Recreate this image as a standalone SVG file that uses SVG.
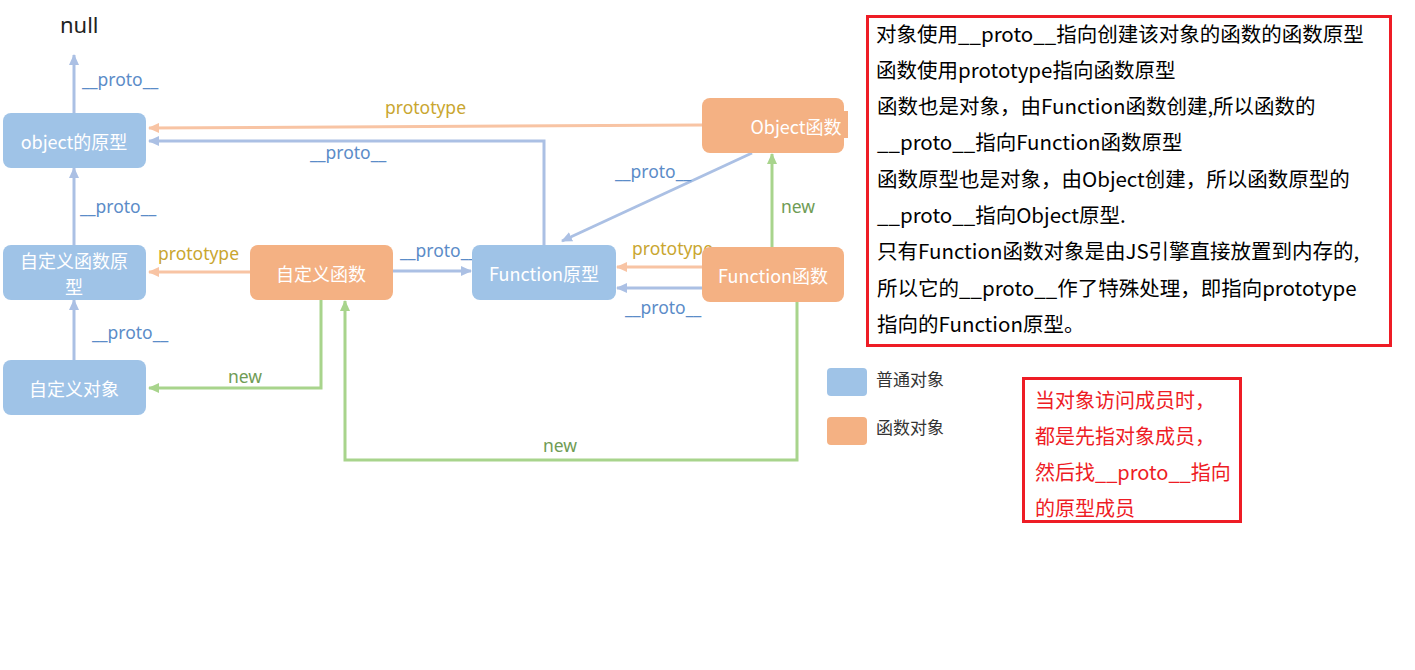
<svg xmlns="http://www.w3.org/2000/svg" width="1415" height="670" viewBox="0 0 1415 670">
<style>
.bn{fill:#9fc3e7}
.on{fill:#f4b183}
.nt{font-family:"Noto Sans CJK SC","Noto Sans",sans-serif;font-size:18px;fill:#ffffff;text-anchor:middle;dominant-baseline:central}
.lb{font-family:"Noto Sans","Noto Sans CJK SC",sans-serif;font-size:17.5px}
.lp{fill:#5b8cc8}
.lt{fill:#c9a630}
.ln{fill:#6f9c55}
.cb{stroke:#abc0e4;stroke-width:3;fill:none}
.co{stroke:#f8c4a4;stroke-width:3;fill:none}
.cg{stroke:#a8d48c;stroke-width:3;fill:none}
.tx{font-family:"Noto Sans CJK SC","Noto Sans",sans-serif;font-size:20.5px;fill:#000}
.rx{font-family:"Noto Sans CJK SC","Noto Sans",sans-serif;font-size:20px;fill:#ee1c25}
.lg{font-family:"Noto Sans CJK SC",sans-serif;font-size:17px;fill:#333}
</style>
<defs>
<marker id="ab" markerUnits="userSpaceOnUse" markerWidth="11" markerHeight="10" refX="10" refY="5" orient="auto"><path d="M0,0 L11,5 L0,10 z" fill="#abc0e4"/></marker>
<marker id="ao" markerUnits="userSpaceOnUse" markerWidth="11" markerHeight="10" refX="10" refY="5" orient="auto"><path d="M0,0 L11,5 L0,10 z" fill="#f8c4a4"/></marker>
<marker id="ag" markerUnits="userSpaceOnUse" markerWidth="11" markerHeight="10" refX="10" refY="5" orient="auto"><path d="M0,0 L11,5 L0,10 z" fill="#a8d48c"/></marker>
</defs>
<rect width="1415" height="670" fill="#ffffff"/>
<text x="60" y="33" font-family="Noto Sans, sans-serif" font-size="22" fill="#222">null</text>
<g id="connectors">
<line class="cb" x1="74" y1="113" x2="74" y2="55" marker-end="url(#ab)"/>
<text class="lb lp" x="82" y="86">__proto__</text>
<line class="cb" x1="74" y1="245" x2="74" y2="168" marker-end="url(#ab)"/>
<text class="lb lp" x="80" y="213">__proto__</text>
<line class="cb" x1="74" y1="360" x2="74" y2="300" marker-end="url(#ab)"/>
<text class="lb lp" x="92" y="339">__proto__</text>
<line class="co" x1="702" y1="125" x2="149" y2="128" marker-end="url(#ao)"/>
<text class="lb lt" x="385" y="114">prototype</text>
<polyline class="cb" points="544,245 544,141 149,141" marker-end="url(#ab)"/>
<text class="lb lp" x="310" y="159">__proto__</text>
<line class="co" x1="250" y1="272" x2="149" y2="272" marker-end="url(#ao)"/>
<text class="lb lt" x="158" y="260">prototype</text>
<line class="cb" x1="393" y1="271" x2="471" y2="271" marker-end="url(#ab)"/>
<text class="lb lp" x="400" y="257">__proto__</text>
<line class="cb" x1="752" y1="153" x2="562" y2="241" marker-end="url(#ab)"/>
<text class="lb lp" x="615" y="178">__proto__</text>
<line class="co" x1="702" y1="267" x2="617" y2="267" marker-end="url(#ao)"/>
<text class="lb lt" x="632" y="255">prototype</text>
<line class="cb" x1="702" y1="288" x2="617" y2="288" marker-end="url(#ab)"/>
<text class="lb lp" x="625" y="314">__proto__</text>
<line class="cg" x1="772" y1="247" x2="772" y2="154" marker-end="url(#ag)"/>
<text class="lb ln" x="781" y="213">new</text>
<polyline class="cg" points="321,300 321,388 149,388" marker-end="url(#ag)"/>
<text class="lb ln" x="228" y="383">new</text>
<polyline class="cg" points="797,302 797,460 345,460 345,301" marker-end="url(#ag)"/>
<text class="lb ln" x="543" y="452">new</text>
</g>
<g id="object-proto"><rect class="bn" x="3" y="113" width="143" height="55" rx="8"/><text class="nt" x="74" y="141">object的原型</text></g>
<g id="custom-func-proto"><rect class="bn" x="3" y="245" width="143" height="55" rx="8"/><text class="nt" x="74" y="260">自定义函数原</text><text class="nt" x="74" y="286">型</text></g>
<g id="custom-obj"><rect class="bn" x="3" y="360" width="143" height="55" rx="8"/><text class="nt" x="74" y="388">自定义对象</text></g>
<g id="custom-func"><rect class="on" x="250" y="245" width="143" height="55" rx="8"/><text class="nt" x="321" y="273">自定义函数</text></g>
<g id="function-proto"><rect class="bn" x="472" y="245" width="144" height="55" rx="8"/><text class="nt" x="544" y="273">Function原型</text></g>
<g id="function-func"><rect class="on" x="702" y="247" width="142" height="55" rx="8"/><text class="nt" x="773" y="275">Function函数</text></g>
<g id="object-func"><rect class="on" x="702" y="98" width="142" height="55" rx="8"/><rect class="on" x="840" y="111" width="8" height="27"/><text class="nt" x="796" y="126" font-size="19">Object函数</text></g>
<g id="legend">
<rect class="bn" x="827" y="368" width="40" height="28" rx="4"/><text class="lg" x="876" y="386">普通对象</text>
<rect class="on" x="827" y="417" width="40" height="28" rx="4"/><text class="lg" x="876" y="434">函数对象</text>
</g>
<g id="note1">
<rect x="867.5" y="16.5" width="523" height="329" fill="none" stroke="#ee1c25" stroke-width="3"/>
<text class="tx" x="876" y="42">对象使用__proto__指向创建该对象的函数的函数原型</text>
<text class="tx" x="876" y="78">函数使用prototype指向函数原型</text>
<text class="tx" x="877" y="114">函数也是对象，由Function函数创建,所以函数的</text>
<text class="tx" x="877" y="150">__proto__指向Function函数原型</text>
<text class="tx" x="877" y="187">函数原型也是对象，由Object创建，所以函数原型的</text>
<text class="tx" x="877" y="223">__proto__指向Object原型.</text>
<text class="tx" x="877" y="259">只有Function函数对象是由JS引擎直接放置到内存的,</text>
<text class="tx" x="877" y="296">所以它的__proto__作了特殊处理，即指向prototype</text>
<text class="tx" x="877" y="332">指向的Function原型。</text>
</g>
<g id="note2">
<rect x="1023.5" y="378.5" width="217" height="143" fill="none" stroke="#ee1c25" stroke-width="3"/>
<text class="rx" x="1035" y="408">当对象访问成员时，</text>
<text class="rx" x="1035" y="444">都是先指对象成员，</text>
<text class="rx" x="1035" y="480">然后找__proto__指向</text>
<text class="rx" x="1035" y="516">的原型成员</text>
</g>
</svg>
